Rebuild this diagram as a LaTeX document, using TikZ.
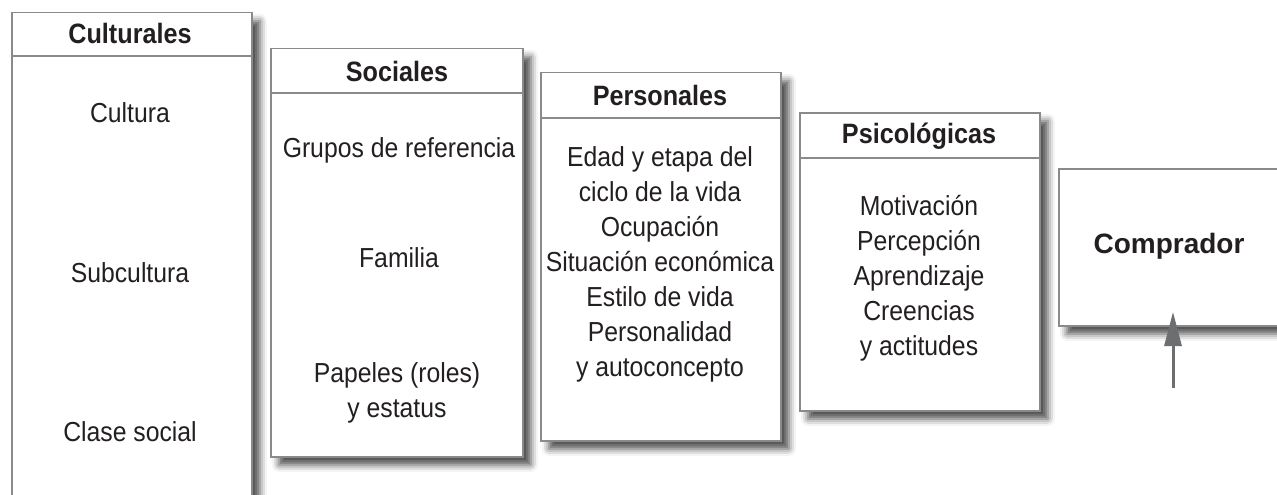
\documentclass[tikz,border=0pt]{standalone}
\usepackage{fontspec}
\setmainfont{Liberation Sans}[FakeStretch=0.9]
\newfontfamily\buyerfont{Liberation Sans}
\usetikzlibrary{arrows.meta,calc,shadows.blur}
\definecolor{boxgray}{HTML}{8A8A8A}
\definecolor{inkdark}{HTML}{231F20}
\definecolor{arrowgray}{HTML}{6D6E70}
\tikzset{
	factorbox/.style={draw=boxgray, line width=1.5pt, fill=white, anchor=north west, inner sep=0pt,
		blur shadow={shadow xshift=8pt, shadow yshift=-8pt, shadow blur radius=7pt, shadow opacity=70}},
	headline/.style={draw=boxgray, line width=1.5pt},
	headtext/.style={text=inkdark, font=\fontsize{28}{32}\selectfont\bfseries},
	itemtext/.style={text=inkdark, font=\fontsize{27.5}{35}\selectfont, align=center},
	buyertext/.style={text=inkdark, font=\buyerfont\fontsize{28}{32}\selectfont\bfseries},
	buyerarrow/.style={draw=arrowgray, line width=3pt, -{Triangle[length=34pt,width=17pt]}},
}

\begin{document}
\begin{tikzpicture}[x=1pt,y=-1pt]
	\useasboundingbox (0,0) rectangle (1277,495);
	\clip (0,0) rectangle (1277,495);

	% Culturales
	\node[factorbox, minimum width=240pt, minimum height=510pt] (cult) at (11,12) {};
	\draw[headline] ($(cult.north west)+(0,44)$) -- ($(cult.north east)+(0,44)$);
	\node[headtext] (culthead) at (130,33) {Culturales};
	\node[itemtext] (cultura) at (130,113) {Cultura};
	\node[itemtext] (subcultura) at (130,273) {Subcultura};
	\node[itemtext] (clase) at (130,432) {Clase social};

	% Sociales
	\node[factorbox, minimum width=252pt, minimum height=408pt] (soc) at (270,48) {};
	\draw[headline] ($(soc.north west)+(0,45)$) -- ($(soc.north east)+(0,45)$);
	\node[headtext] (sochead) at (397,71) {Sociales};
	\node[itemtext] (grupos) at (399,150) {Grupos de referencia};
	\node[itemtext] (familia) at (399,258) {Familia};
	\node[itemtext] (papeles) at (397,393) {Papeles (roles)\\y estatus};

	% Personales
	\node[factorbox, minimum width=240pt, minimum height=368pt] (pers) at (540,72) {};
	\draw[headline] ($(pers.north west)+(0,46)$) -- ($(pers.north east)+(0,46)$);
	\node[headtext] (pershead) at (660,95) {Personales};
	\node[itemtext] (persitems) at (660,264) {Edad y etapa del\\ciclo de la vida\\Ocupación\\Situación económica\\Estilo de vida\\Personalidad\\y autoconcepto};

	% Psicologicas
	\node[factorbox, minimum width=240pt, minimum height=298pt] (psic) at (799,112) {};
	\draw[headline] ($(psic.north west)+(0,46)$) -- ($(psic.north east)+(0,46)$);
	\node[headtext] (psichead) at (919,136) {Psicológicas};
	\node[itemtext] (psicitems) at (919,278) {Motivación\\Percepción\\Aprendizaje\\Creencias\\y actitudes};

	% Comprador
	\node[factorbox, minimum width=240pt, minimum height=157pt] (comp) at (1058,168) {};
	\node[buyertext] (buyer) at (1169,246) {Comprador};
	\coordinate (buyerfoot) at (1173,388);
	\coordinate (buyertip) at (1173,312);
	\draw[buyerarrow] (buyerfoot) -- (buyertip);

\end{tikzpicture}
\end{document}
